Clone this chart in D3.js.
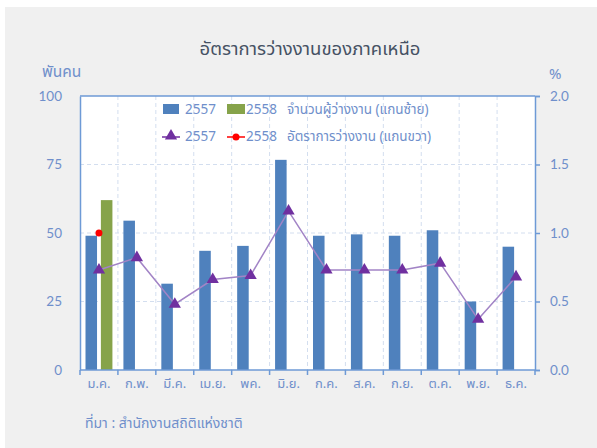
<!DOCTYPE html>
<html>
<head>
<meta charset="utf-8">
<script src="https://cdn.jsdelivr.net/npm/d3@7"></script>
<style>
  body { margin: 0; background: #fff; }
  svg text { font-family: "Noto Sans Thai", Tahoma, "Noto Sans", "DejaVu Sans", sans-serif; }
</style>
</head>
<body>
<div id="chart"></div>
<script>
// ข้อมูล
var months = ["ม.ค.", "ก.พ.", "มี.ค.", "เม.ย.", "พค.", "มิ.ย.", "ก.ค.", "ส.ค.", "ก.ย.", "ต.ค.", "พ.ย.", "ธ.ค."];
var unemp2557 = [49, 54.5, 31.5, 43.5, 45.3, 76.7, 49, 49.5, 49, 51, 25, 45];
var unemp2558 = [62];
var rate2557 = [0.73, 0.82, 0.48, 0.66, 0.69, 1.16, 0.73, 0.73, 0.73, 0.78, 0.37, 0.68];
var rate2558 = [1.0];
var leftTicks = [0, 25, 50, 75, 100];
var rightTicks = [0, 0.5, 1.0, 1.5, 2.0];

var W = 597, H = 448;
var pLeft = 80, pRight = 535, pTop = 96, pBottom = 370;

var blue = "#4f81bd", green = "#86a34a", purple = "#7030a0", lineCol = "#a284c6", red = "#ff0000";
var textBlue = "#6f8fcb", axisBlue = "#6e9ad6", gridCol = "#d3deef";

var svg = d3.select("#chart").append("svg")
    .attr("width", W)
    .attr("height", H);

// พื้นหลัง
svg.append("rect").attr("x", 5).attr("y", 7).attr("width", W - 5).attr("height", H - 7).attr("fill", "#f0f0f0");
svg.append("rect").attr("x", pLeft).attr("y", pTop).attr("width", pRight - pLeft).attr("height", pBottom - pTop).attr("fill", "#fff");

var x = d3.scaleBand().domain(months).range([pLeft, pRight]);
var xs = d3.scaleBand().domain(["2557", "2558"]).range([5.5, x.bandwidth() - 5.5]).paddingInner(0.25);
var yL = d3.scaleLinear().domain([0, 100]).range([pBottom, pTop]);
var yR = d3.scaleLinear().domain([0, 2]).range([pBottom, pTop]);

// เส้นกริด
svg.selectAll(".hgrid").data([25, 50, 75]).enter().append("line")
    .attr("x1", pLeft).attr("x2", pRight)
    .attr("y1", function(d) { return yL(d); })
    .attr("y2", function(d) { return yL(d); })
    .attr("stroke", gridCol).attr("stroke-dasharray", "4,3");

svg.selectAll(".vgrid").data(months.slice(1)).enter().append("line")
    .attr("x1", function(d) { return x(d); })
    .attr("x2", function(d) { return x(d); })
    .attr("y1", pTop).attr("y2", pBottom)
    .attr("stroke", gridCol).attr("stroke-dasharray", "4,3");

// แท่ง
svg.selectAll(".b57").data(unemp2557).enter().append("rect")
    .attr("x", function(d, i) { return x(months[i]) + xs("2557"); })
    .attr("y", function(d) { return yL(d); })
    .attr("width", xs.bandwidth())
    .attr("height", function(d) { return pBottom - yL(d); })
    .attr("fill", blue);

svg.selectAll(".b58").data(unemp2558).enter().append("rect")
    .attr("x", function(d, i) { return x(months[i]) + xs("2558"); })
    .attr("y", function(d) { return yL(d); })
    .attr("width", xs.bandwidth())
    .attr("height", function(d) { return pBottom - yL(d); })
    .attr("fill", green);

// แกน
var gL = svg.append("g").attr("transform", "translate(" + pLeft + ",0)")
    .call(d3.axisLeft(yL).tickValues(leftTicks).tickSize(0).tickPadding(18));
gL.select(".domain").attr("stroke", axisBlue).attr("stroke-width", 1.5);

var gR = svg.append("g").attr("transform", "translate(" + pRight + ",0)")
    .call(d3.axisRight(yR).tickValues(rightTicks).tickSize(5).tickPadding(10).tickFormat(d3.format(".1f")));
gR.select(".domain").attr("stroke", axisBlue).attr("stroke-width", 1.5);
gR.selectAll(".tick line").attr("stroke", axisBlue).attr("stroke-width", 1.5);

[gL, gR].forEach(function(g) {
    g.selectAll("text").attr("fill", textBlue).style("font-family", "Lato, 'Open Sans', sans-serif").style("font-size", "13.5px");
});

svg.append("line").attr("x1", pLeft).attr("x2", pRight).attr("y1", pTop).attr("y2", pTop)
    .attr("stroke", axisBlue).attr("stroke-width", 1.5);

var bounds = months.map(function(m) { return x(m); }).concat([pRight]);
svg.selectAll(".xtick").data(bounds).enter().append("line")
    .attr("x1", function(d) { return d; }).attr("x2", function(d) { return d; })
    .attr("y1", pBottom).attr("y2", pBottom + 5)
    .attr("stroke", axisBlue).attr("stroke-width", 1.5);
svg.append("line").attr("x1", pLeft).attr("x2", pRight).attr("y1", pBottom).attr("y2", pBottom)
    .attr("stroke", axisBlue).attr("stroke-width", 1.5);

svg.selectAll(".xlab").data(months).enter().append("text")
    .attr("x", function(d) { return x(d) + x.bandwidth() / 2; })
    .attr("y", 388)
    .attr("text-anchor", "middle")
    .attr("fill", textBlue)
    .style("font-size", "13px")
    .text(function(d) { return d; });

// เส้นอัตรา
var cx = function(d, i) { return x(months[i]) + x.bandwidth() / 2; };
var line = d3.line().x(cx).y(function(d) { return yR(d); });
svg.append("path").datum(rate2557).attr("d", line)
    .attr("fill", "none").attr("stroke", lineCol).attr("stroke-width", 1.5);

var tri = d3.symbol().type(d3.symbolTriangle).size(65);
svg.selectAll(".tri").data(rate2557).enter().append("path")
    .attr("d", tri)
    .attr("transform", function(d, i) { return "translate(" + cx(d, i) + "," + yR(d) + ")"; })
    .attr("fill", purple);

svg.selectAll(".dot").data(rate2558).enter().append("circle")
    .attr("cx", cx)
    .attr("cy", function(d) { return yR(d); })
    .attr("r", 3.5)
    .attr("fill", red);

// ป้ายกำกับ
svg.append("text").attr("x", 310).attr("y", 55).attr("text-anchor", "middle")
    .attr("fill", "#465264").style("font-size", "18.5px")
    .text("อัตราการว่างงานของภาคเหนือ");
svg.append("text").attr("x", 42).attr("y", 77).attr("fill", textBlue).style("font-size", "15.5px").text("พันคน");
svg.append("text").attr("x", 549).attr("y", 79).attr("fill", textBlue).style("font-size", "15px").text("%");
svg.append("text").attr("x", 85).attr("y", 428).attr("fill", textBlue).style("font-size", "14px")
    .text("ที่มา : สำนักงานสถิติแห่งชาติ");

// คำอธิบาย
var lg = svg.append("g").style("font-size", "13.5px");
lg.append("rect").attr("x", 163).attr("y", 104).attr("width", 16).attr("height", 10).attr("fill", blue);
lg.append("text").attr("x", 185).attr("y", 114).attr("fill", textBlue).text("2557");
lg.append("rect").attr("x", 227).attr("y", 104).attr("width", 18).attr("height", 10).attr("fill", green);
lg.append("text").attr("x", 246).attr("y", 114).attr("fill", textBlue).text("2558");
lg.append("text").attr("x", 287).attr("y", 114).attr("fill", textBlue).text("จำนวนผู้ว่างงาน (แกนซ้าย)");

lg.append("line").attr("x1", 162).attr("x2", 180).attr("y1", 137).attr("y2", 137).attr("stroke", purple).attr("stroke-width", 1.5);
lg.append("path").attr("d", tri).attr("transform", "translate(171,136)").attr("fill", purple);
lg.append("text").attr("x", 185).attr("y", 141).attr("fill", textBlue).text("2557");
lg.append("line").attr("x1", 227).attr("x2", 245).attr("y1", 137).attr("y2", 137).attr("stroke", red).attr("stroke-width", 1.5);
lg.append("circle").attr("cx", 236).attr("cy", 137).attr("r", 3.5).attr("fill", red);
lg.append("text").attr("x", 246).attr("y", 141).attr("fill", textBlue).text("2558");
lg.append("text").attr("x", 287).attr("y", 141).attr("fill", textBlue).text("อัตราการว่างงาน (แกนขวา)");
</script>
</body>
</html>
